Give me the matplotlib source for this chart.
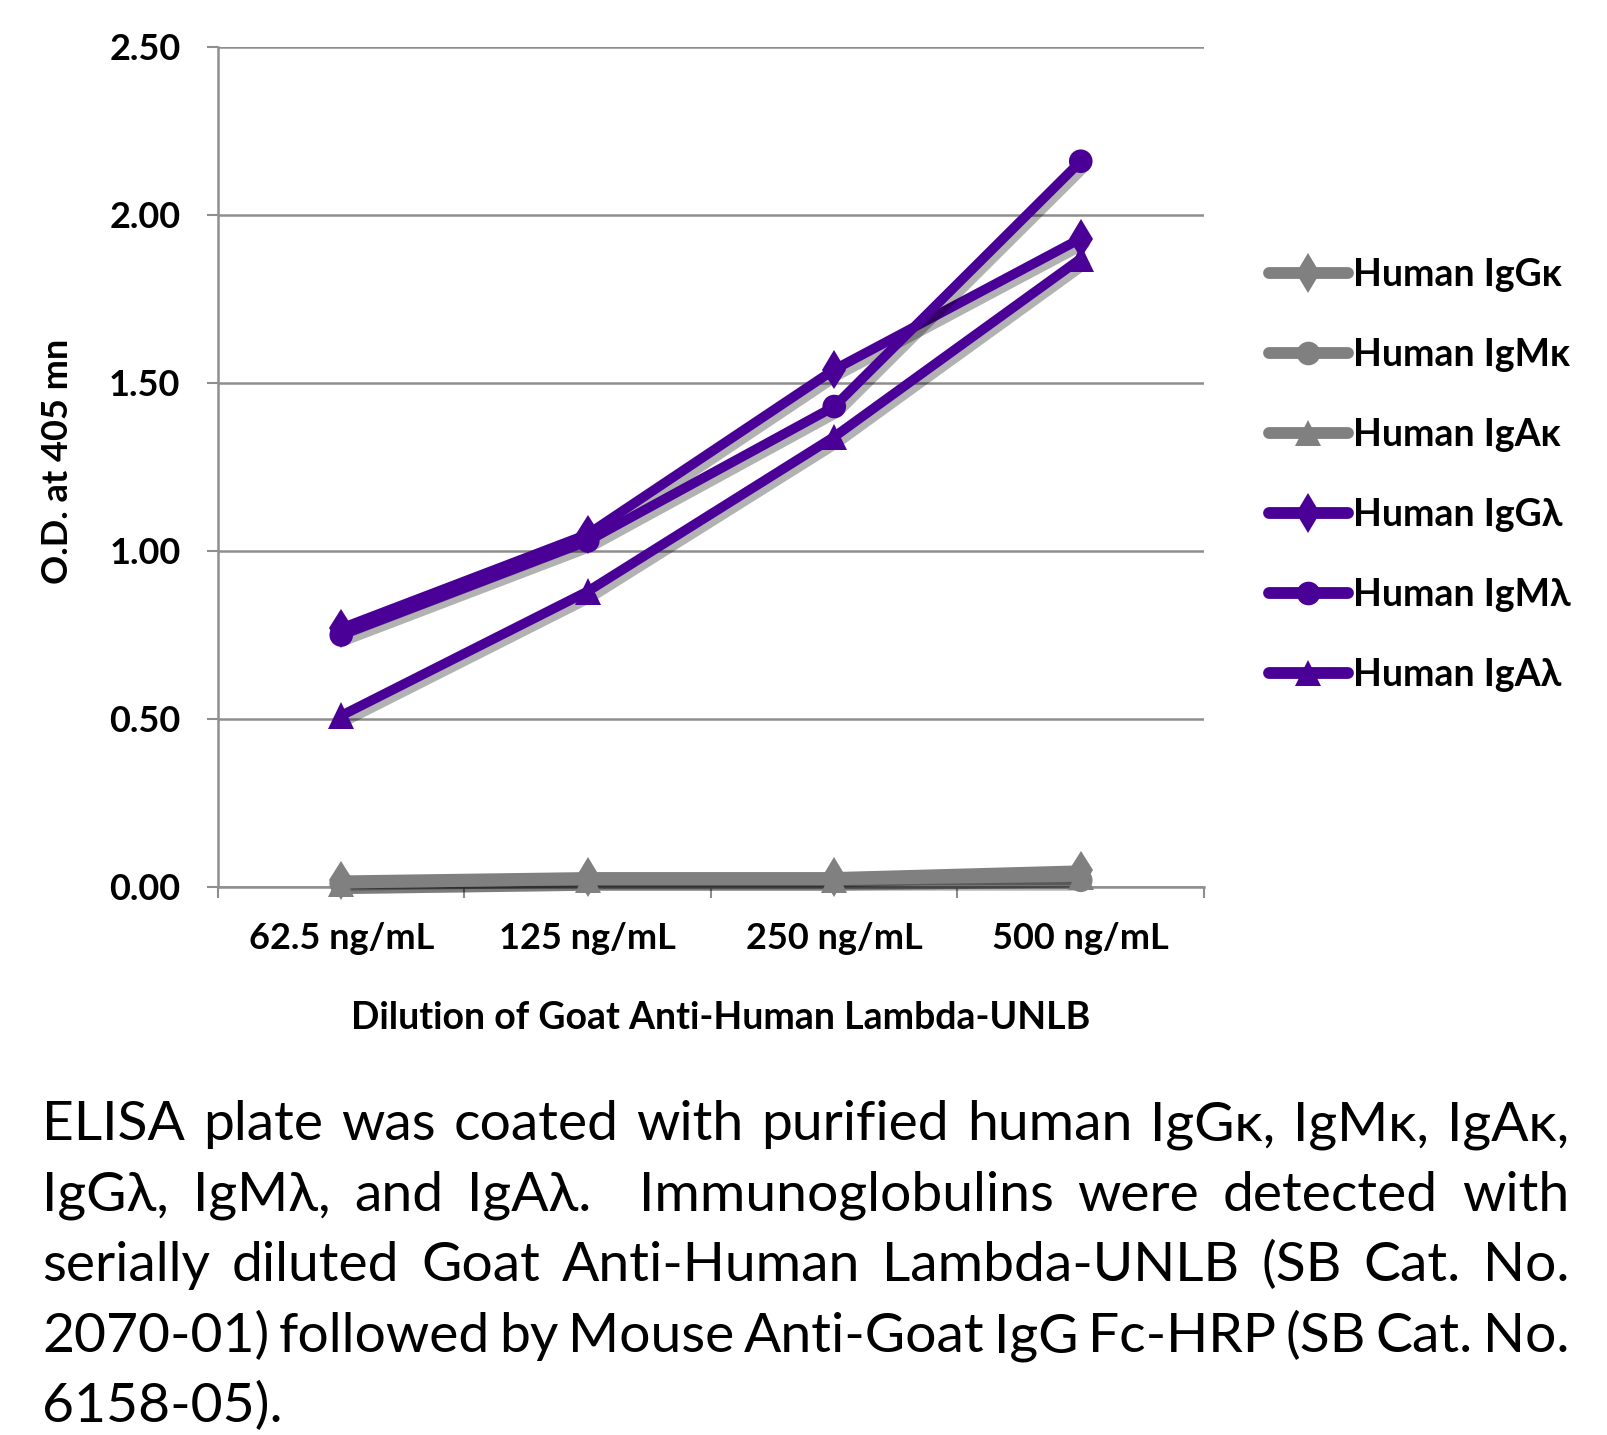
import matplotlib
matplotlib.use("Agg")
import matplotlib.pyplot as plt
import matplotlib.patheffects as pe
from matplotlib.ticker import FixedLocator, FormatStrFormatter

categories = ['62.5 ng/mL', '125 ng/mL', '250 ng/mL', '500 ng/mL']
igg_kappa = [0.02, 0.03, 0.03, 0.05]
igm_kappa = [0.01, 0.02, 0.02, 0.02]
iga_kappa = [0.01, 0.02, 0.02, 0.03]
igg_lambda = [0.77, 1.05, 1.54, 1.93]
igm_lambda = [0.75, 1.03, 1.43, 2.16]
iga_lambda = [0.51, 0.88, 1.34, 1.87]
series_labels = ['Human IgG\u03ba', 'Human IgM\u03ba', 'Human IgA\u03ba',
                 'Human IgG\u03bb', 'Human IgM\u03bb', 'Human IgA\u03bb']
y_ticks = [0.0, 0.5, 1.0, 1.5, 2.0, 2.5]

caption_lines = [
    "ELISA plate was coated with purified human IgG\u03ba, IgM\u03ba, IgA\u03ba,",
    "IgG\u03bb, IgM\u03bb, and IgA\u03bb.  Immunoglobulins were detected with",
    "serially diluted Goat Anti-Human Lambda-UNLB (SB Cat. No.",
    "2070-01) followed by Mouse Anti-Goat IgG Fc-HRP (SB Cat. No.",
    "6158-05).",
]

W, H = 1608, 1435
DPI = 100
BOLD = ['Lato', 'DejaVu Sans']
BW = 'bold'
GRAY = '#808080'
PURPLE = '#4a0096'
GRID = '#8e8e8e'

fig = plt.figure(figsize=(W / DPI, H / DPI), dpi=DPI)
ax = fig.add_axes([218 / W, 1 - 887 / H, (1204 - 218) / W, (887 - 47) / H])

x = list(range(len(categories)))
shadow = [pe.SimpleLineShadow(offset=(3, -4), shadow_color='black', alpha=0.3), pe.Normal()]

data = [igg_kappa, igm_kappa, iga_kappa, igg_lambda, igm_lambda, iga_lambda]
colors = [GRAY, GRAY, GRAY, PURPLE, PURPLE, PURPLE]
markers = ['d', 'o', '^', 'd', 'o', '^']
msizes = [20, 17, 19, 20, 17, 19]
handles = []
for vals, c, m, ms, lab in zip(data, colors, markers, msizes, series_labels):
    ln, = ax.plot(x, vals, color=c, lw=7, marker=m, markersize=ms,
                  markeredgewidth=0, solid_capstyle='round', solid_joinstyle='round',
                  label=lab, clip_on=False, zorder=3, path_effects=shadow)
    handles.append(ln)

ax.set_xlim(-0.5, len(categories) - 0.5)
ax.set_ylim(0, 2.5)
ax.yaxis.set_major_locator(FixedLocator(y_ticks))
ax.yaxis.set_major_formatter(FormatStrFormatter('%.2f'))
ax.grid(axis='y', color=GRID, lw=1.8, zorder=0)
ax.set_axisbelow(True)

ax.set_xticks(x)
ax.set_xticklabels(categories)
ax.set_xticks([i - 0.5 for i in range(len(categories) + 1)], minor=True)
ax.tick_params(axis='x', which='major', length=0, pad=25)
ax.tick_params(axis='x', which='minor', length=8, width=1.5, color=GRID, direction='out')
ax.tick_params(axis='y', which='major', length=8, width=1.5, color=GRID, pad=19)

for lbl in ax.get_xticklabels() + ax.get_yticklabels():
    lbl.set_fontfamily(BOLD)
    lbl.set_fontweight(BW)
    lbl.set_fontsize(26)

for s in ['top', 'right']:
    ax.spines[s].set_visible(False)
ax.spines['left'].set_color(GRID)
ax.spines['left'].set_linewidth(1.8)
ax.spines['bottom'].set_color(GRID)
ax.spines['bottom'].set_linewidth(1.8)

ax.set_xlabel('Dilution of Goat Anti-Human Lambda-UNLB', fontfamily=BOLD,
              fontweight=BW, fontsize=27, va='center')
ax.xaxis.set_label_coords(0.51, (887 - 1018) / 840)
ax.set_ylabel('O.D. at 405 mn', fontfamily=BOLD, fontweight=BW, fontsize=26, va='center')
ax.yaxis.set_label_coords((57 - 218) / 986, 0.507)

leg = ax.legend(handles=handles, loc='upper left', bbox_to_anchor=(1250 / W, 1 - 239 / H),
                bbox_transform=fig.transFigure, frameon=False, borderpad=0,
                handlelength=2.1, handletextpad=0.15, labelspacing=1.23,
                prop={'family': BOLD, 'weight': BW, 'size': 27})
for lh in leg.get_lines():
    lh.set_linewidth(8.5)
    lh.set_solid_capstyle('round')
    lh.set_path_effects([])

# Justified caption
renderer = fig.canvas.get_renderer()
X0, X1 = 42, 1569
baselines = [1140, 1211, 1281, 1352, 1422]
CAP_FS = 39.8
CAP_FAMILY = ['Lato', 'DejaVu Sans']


def measure(s):
    t = fig.text(0, 0, s, fontsize=CAP_FS, family=CAP_FAMILY)
    wd = t.get_window_extent(renderer).width
    t.remove()
    return wd


space_w = measure('a b') - measure('ab')
for i, (line, yb) in enumerate(zip(caption_lines, baselines)):
    is_last = (i == len(caption_lines) - 1)
    tokens = line.split(' ')
    words = []
    gapw = []
    w_extra = 1
    for t in tokens:
        if t == '':
            w_extra += 1
            continue
        if words:
            gapw.append(w_extra)
        words.append(t)
        w_extra = 1
    widths = [measure(w) for w in words]
    if is_last or len(words) == 1:
        gap_unit = space_w
    else:
        gap_unit = (X1 - X0 - sum(widths)) / sum(gapw)
    xp = X0
    for j, (w, wd) in enumerate(zip(words, widths)):
        fig.text(xp / W, 1 - yb / H, w, fontsize=CAP_FS, family=CAP_FAMILY,
                 va='baseline', ha='left')
        xp += wd
        if j < len(gapw):
            xp += gap_unit * gapw[j]

fig.savefig('out.png', dpi=DPI)
